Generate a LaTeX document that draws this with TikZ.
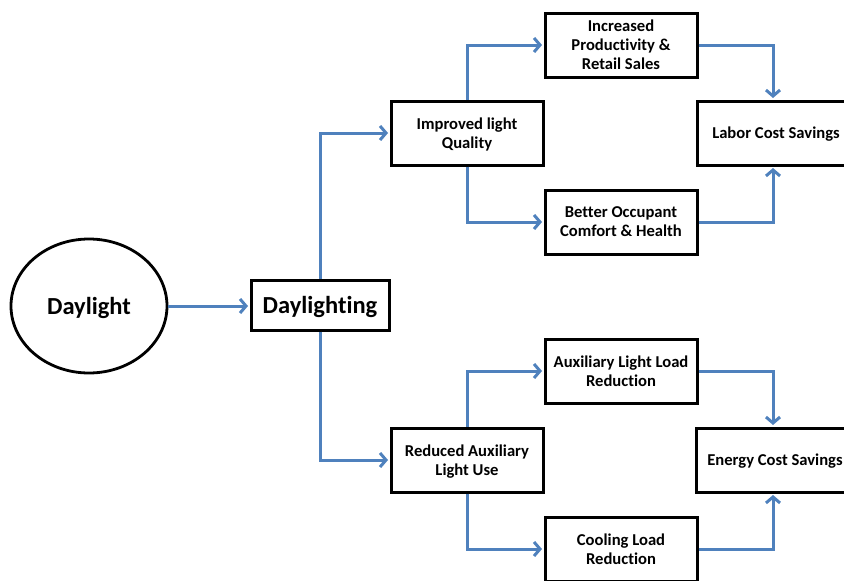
\documentclass[tikz,border=0pt]{standalone}
\usepackage{fontspec}
\setmainfont{Carlito}[Ligatures=NoCommon]
\usetikzlibrary{arrows.meta,shapes.geometric}
\definecolor{linkblue}{RGB}{79,129,189}
\begin{document}
\begin{tikzpicture}[x=1pt,y=-1pt,
  box/.style={draw=black,line width=3pt,rectangle,minimum width=152pt,minimum height=64pt,
    align=center,font=\bfseries\fontsize{16.6}{19}\selectfont,inner sep=1pt,text depth=0pt},
  widebox/.style={box,minimum width=158pt},
  bigbox/.style={draw=black,line width=3pt,rectangle,minimum width=138pt,minimum height=50pt,
    align=center,font=\bfseries\fontsize{24.5}{28}\selectfont,inner sep=1pt,text depth=0pt},
  circ/.style={draw=black,line width=2.8pt,ellipse,minimum width=156pt,minimum height=134pt,
    font=\bfseries\fontsize{24.5}{28}\selectfont,inner sep=0pt,text depth=0pt},
  conn/.style={draw=linkblue,line width=3pt,shorten >=1.5pt,
    -{Straight Barb[length=6pt,width=14pt]}}]
\clip (0,0) rectangle (844,581);
\node[circ] (sun) at (89,306) {Daylight};
\node[bigbox] (dl) at (320,305) {Daylighting};
\node[box] (iq) at (467,133) {Improved light\\Quality};
\node[box] (ra) at (467,460) {Reduced Auxiliary\\Light Use};
\node[box] (ip) at (621,45) {Increased\\Productivity \&\\Retail Sales};
\node[box] (bo) at (621,222) {Better Occupant\\Comfort \& Health};
\node[box] (al) at (621,371) {Auxiliary Light Load\\Reduction};
\node[box] (cl) at (621,549) {Cooling Load\\Reduction};
\node[widebox] (lc) at (776,133) {Labor Cost Savings};
\node[widebox] (ec) at (775,460) {Energy Cost Savings};
\draw[conn] (sun.east) -- (sun.east -| dl.west);
\draw[conn] (dl.north) |- (iq.west);
\draw[conn] (dl.south) |- (ra.west);
\draw[conn] (iq.north) |- (ip.west);
\draw[conn] (iq.south) |- (bo.west);
\draw[conn] (ra.north) |- (al.west);
\draw[conn] (ra.south) |- (cl.west);
\draw[conn] (ip.east) -| ([xshift=-3pt]lc.north);
\draw[conn] (bo.east) -| ([xshift=-3pt]lc.south);
\draw[conn] (al.east) -| ([xshift=-2pt]ec.north);
\draw[conn] (cl.east) -| ([xshift=-2pt]ec.south);
\end{tikzpicture}
\end{document}
